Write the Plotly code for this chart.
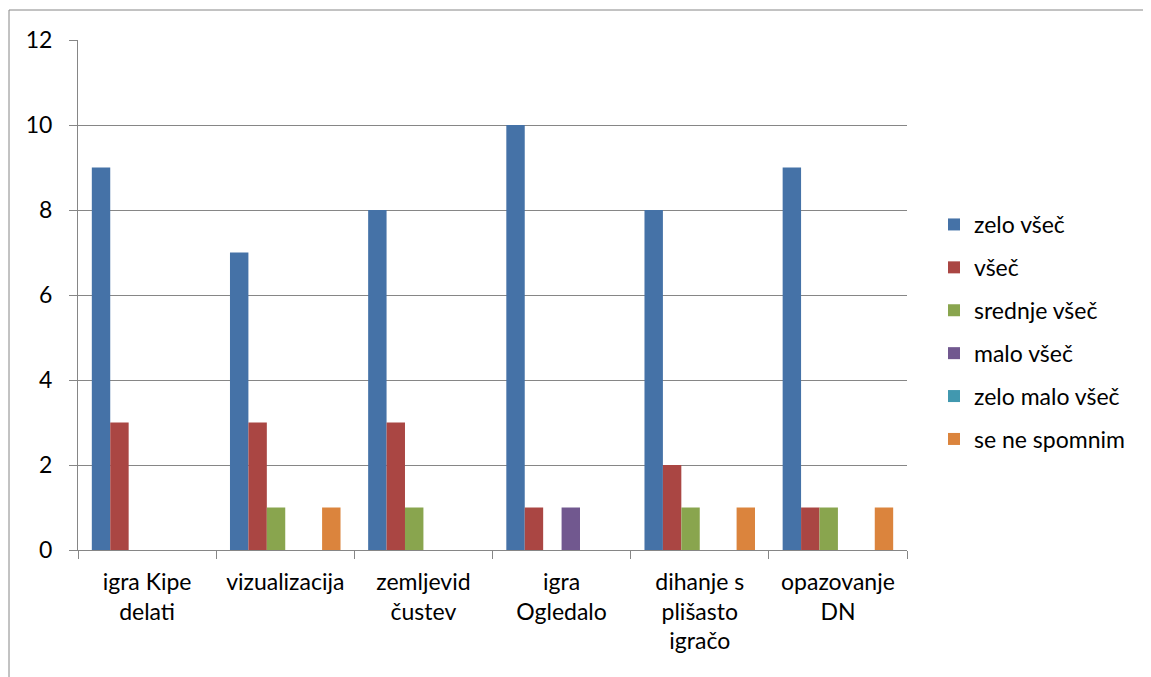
import plotly.graph_objects as go

categories = ["igra Kipe<br>delati", "vizualizacija", "zemljevid<br>čustev", "igra<br>Ogledalo",
              "dihanje s<br>plišasto<br>igračo", "opazovanje<br>DN"]
series_names = ["zelo všeč", "všeč", "srednje všeč", "malo všeč", "zelo malo všeč", "se ne spomnim"]
zelo_vsec = [9, 7, 8, 10, 8, 9]
vsec = [3, 3, 3, 1, 2, 1]
srednje_vsec = [0, 1, 1, 0, 1, 1]
malo_vsec = [0, 0, 0, 1, 0, 0]
zelo_malo_vsec = [0, 0, 0, 0, 0, 0]
se_ne_spomnim = [0, 1, 0, 0, 1, 1]
y_ticks = [0, 2, 4, 6, 8, 10, 12]

series_values = [zelo_vsec, vsec, srednje_vsec, malo_vsec, zelo_malo_vsec, se_ne_spomnim]
colors = ["#4572A7", "#AA4643", "#89A54E", "#71588F", "#4198AF", "#DB843D"]

FONT = "Lato, Carlito, Calibri, sans-serif"
FS = 23

fig = go.Figure()
for name, vals, col in zip(series_names, series_values, colors):
    fig.add_trace(go.Bar(x=categories, y=vals, name=name, marker_color=col,
                         marker_line_width=0, legendgroup=name))

OFF = 8  # page body margin
W, H = 1151 - OFF, 677 - OFF
L, R, T, B = 78 - OFF, 907 - OFF, 40 - OFF, 550 - OFF
pw, ph = R - L, B - T

fig.update_layout(
    width=W, height=H,
    margin=dict(l=L, r=W - R, t=T, b=H - B, pad=0),
    paper_bgcolor="white", plot_bgcolor="white",
    barmode="group", bargap=0.2, bargroupgap=0,
    font=dict(family=FONT, size=FS, color="#000000"),
    legend=dict(x=(934 - OFF - L) / pw, xanchor="left", y=(B - (203 - OFF)) / ph, yanchor="top",
                font=dict(size=FS), tracegroupgap=10, bgcolor="rgba(0,0,0,0)"),
    showlegend=True,
)
fig.update_xaxes(
    showline=True, linecolor="#868686", linewidth=1,
    ticks="outside", ticklen=8, tickcolor="#868686", tickson="boundaries",
    showgrid=False, tickfont=dict(size=FS), ticklabelstandoff=11,
)
fig.update_yaxes(
    range=[0, 12], tickvals=y_ticks,
    showline=True, linecolor="#868686", linewidth=1,
    ticks="outside", ticklen=8, tickcolor="#868686",
    showgrid=True, gridcolor="#868686", gridwidth=1,
    zeroline=False, tickfont=dict(size=FS), ticklabelstandoff=12,
)
# outer chart border
fig.add_shape(type="rect", xref="paper", yref="paper",
              x0=(9 - OFF - L) / pw, x1=(1160 - L) / pw,
              y0=(B - 700) / ph, y1=(B - (10 - OFF)) / ph,
              line=dict(color="#868686", width=1), fillcolor="rgba(0,0,0,0)", layer="below")

fig.write_html("out.html")
